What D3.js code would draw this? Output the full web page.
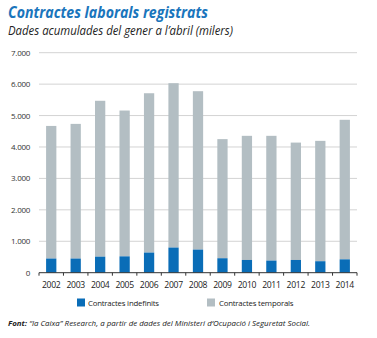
<!DOCTYPE html>
<html><head><meta charset="utf-8">
<script src="https://cdn.jsdelivr.net/npm/d3@7"></script>
<style>
body{margin:0;background:#fff;}
svg{display:block;font-family:"Open Sans",sans-serif;}
</style></head>
<body>
<svg id="c" width="377" height="338"></svg>
<script>
const years = ["2002","2003","2004","2005","2006","2007","2008","2009","2010","2011","2012","2013","2014"];
const totals = [4670,4735,5470,5160,5710,6030,5775,4250,4355,4355,4140,4195,4865];
const indefinits = [450,450,510,520,640,800,735,460,405,385,405,365,425];
const yTicks = [0,1000,2000,3000,4000,5000,6000,7000];
const seriesNames = ["Contractes indefinits","Contractes temporals"];
const colors = ["#0a6db7","#b3bec3"];

const svg = d3.select("#c");
const x0 = 39, x1 = 357;
const x = d3.scaleBand().domain(years).range([x0,x1]).paddingInner(0.58).paddingOuter(0.29);
const y = d3.scaleLinear().domain([0,7000]).range([272.7,52.7]);
const fmt = v => v===0 ? "0" : d3.format(",")(v).replace(/,/g,".");

// title
svg.append("text").attr("x",8).attr("y",18).attr("fill","#1a75bc")
  .attr("font-size",15.5).attr("font-weight","bold").attr("font-style","italic")
  .attr("textLength",200).attr("lengthAdjust","spacingAndGlyphs")
  .text("Contractes laborals registrats");
svg.append("text").attr("x",8).attr("y",35).attr("fill","#222")
  .attr("font-size",12.5).attr("font-style","italic")
  .attr("textLength",225).attr("lengthAdjust","spacingAndGlyphs")
  .text("Dades acumulades del gener a l\u2019abril (milers)");

// grid
svg.append("g").selectAll("line").data(yTicks.filter(d=>d>0)).join("line")
  .attr("x1",x0).attr("x2",x1).attr("y1",d=>y(d)).attr("y2",d=>y(d))
  .attr("stroke","#d3d3d3").attr("stroke-width",1);
svg.append("g").selectAll("text").data(yTicks).join("text")
  .attr("x",30).attr("y",d=>y(d)+3).attr("text-anchor","end")
  .attr("font-size",8).attr("fill","#333").attr("letter-spacing",-0.3).text(fmt);

// bars
const g = svg.append("g");
g.selectAll("rect.t").data(years).join("rect").attr("class","t")
  .attr("x",d=>x(d)).attr("width",x.bandwidth())
  .attr("y",(d,i)=>y(totals[i])).attr("height",(d,i)=>y(indefinits[i])-y(totals[i]))
  .attr("fill",colors[1]);
g.selectAll("rect.i").data(years).join("rect").attr("class","i")
  .attr("x",d=>x(d)).attr("width",x.bandwidth())
  .attr("y",(d,i)=>y(indefinits[i])).attr("height",(d,i)=>y(0)-y(indefinits[i]))
  .attr("fill",colors[0]);

// axis
svg.append("line").attr("x1",x0).attr("x2",x1).attr("y1",y(0)).attr("y2",y(0))
  .attr("stroke","#333").attr("stroke-width",1);
const step = x.step();
svg.append("g").selectAll("line").data(d3.range(years.length+1)).join("line")
  .attr("x1",i=>x0+i*step).attr("x2",i=>x0+i*step)
  .attr("y1",y(0)).attr("y2",y(0)+3).attr("stroke","#333");
svg.append("g").selectAll("text").data(years).join("text")
  .attr("x",d=>x(d)+x.bandwidth()/2).attr("y",288).attr("text-anchor","middle")
  .attr("font-size",8.6).attr("fill","#222").attr("letter-spacing",-0.3).text(d=>d);

// legend
const leg = [[77,88],[207,219]];
seriesNames.forEach((n,i)=>{
  svg.append("rect").attr("x",leg[i][0]).attr("y",298.5).attr("width",8).attr("height",8).attr("fill",colors[i]);
  svg.append("text").attr("x",leg[i][1]).attr("y",305.5).attr("font-size",7.8).attr("fill","#222")
    .attr("letter-spacing",-0.2).text(n);
});

// source
const src = svg.append("text").attr("x",8).attr("y",326).attr("font-size",7.6)
  .attr("font-style","italic").attr("fill","#222")
  .attr("textLength",302).attr("lengthAdjust","spacingAndGlyphs");
src.append("tspan").attr("font-weight","bold").text("Font: ");
src.append("tspan").text("\u201cla Caixa\u201d Research, a partir de dades del Ministeri d\u2019Ocupació i Seguretat Social.");
</script>
</body></html>
